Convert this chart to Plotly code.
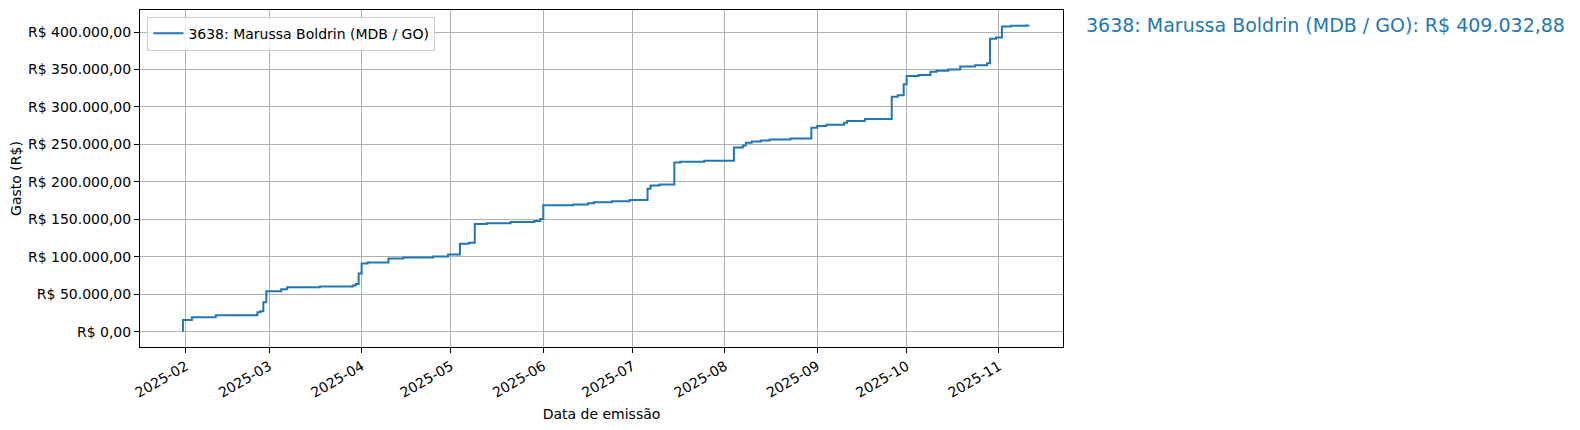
import plotly.graph_objects as go

# datas de emissão e gasto acumulado (R$)
datas = [
    "2025-01-31", "2025-01-31", "2025-02-03", "2025-02-11", "2025-02-25", "2025-02-26",
    "2025-02-27", "2025-02-28", "2025-03-05", "2025-03-07", "2025-03-18", "2025-03-29",
    "2025-03-30", "2025-03-31", "2025-04-01", "2025-04-03", "2025-04-10", "2025-04-15",
    "2025-04-25", "2025-04-30", "2025-05-04", "2025-05-07", "2025-05-09", "2025-05-13",
    "2025-05-21", "2025-05-29", "2025-05-31", "2025-06-01", "2025-06-11", "2025-06-16",
    "2025-06-18", "2025-06-24", "2025-06-30", "2025-07-06", "2025-07-07", "2025-07-10",
    "2025-07-15", "2025-07-17", "2025-07-25", "2025-08-04", "2025-08-07", "2025-08-08",
    "2025-08-10", "2025-08-13", "2025-08-16", "2025-08-23", "2025-08-30", "2025-09-01",
    "2025-09-04", "2025-09-10", "2025-09-11", "2025-09-17", "2025-09-26", "2025-09-28",
    "2025-09-30", "2025-10-01", "2025-10-05", "2025-10-09", "2025-10-11", "2025-10-15",
    "2025-10-19", "2025-10-24", "2025-10-28", "2025-10-29", "2025-10-31", "2025-11-02",
    "2025-11-05", "2025-11-10", "2025-11-11",
]
gasto = [
    0, 15450, 19430, 22080, 26050, 27370,
    39290, 53860, 56510, 59160, 60490, 61810,
    63580, 77700, 90950, 92270, 97570, 98900,
    100300, 103000, 117500, 118900, 143900, 144700,
    146500, 147800, 150400, 168900, 169700, 171500,
    172800, 174100, 175900, 190800, 195200, 196500,
    225900, 226800, 228200, 245900, 248600, 252100,
    253900, 255200, 256500, 257800, 272400, 274600,
    276400, 279000, 281200, 283900, 313500, 315700,
    330200, 341300, 342600, 347000, 348300, 350100,
    354100, 355800, 358500, 391200, 392900, 407500,
    408400, 408900, 409032.88,
]

nome = "3638: Marussa Boldrin (MDB / GO)"
y_ticks = [0, 50000, 100000, 150000, 200000, 250000, 300000, 350000, 400000]
x_ticks = ["2025-02-01", "2025-03-01", "2025-04-01", "2025-05-01", "2025-06-01",
           "2025-07-01", "2025-08-01", "2025-09-01", "2025-10-01", "2025-11-01"]


def brl(v):
    s = f"{v:,.2f}".replace(",", "X").replace(".", ",").replace("X", ".")
    return "R$ " + s


azul = "#1f77b4"

fig = go.Figure()
fig.add_trace(go.Scatter(x=datas, y=gasto, mode="lines", name=nome,
                         line=dict(color=azul, width=2, shape="hv")))

fig.add_annotation(xref="paper", yref="y", x=1.023, y=gasto[-1],
                   text=f"{nome}: {brl(gasto[-1])}", showarrow=False,
                   xanchor="left", yanchor="middle",
                   font=dict(size=19, color=azul))

eixo = dict(showline=True, linecolor="black", linewidth=1, mirror=True,
            ticks="outside", ticklen=5, tickcolor="black", automargin=False,
            showgrid=True, gridcolor="#b0b0b0", gridwidth=1, zeroline=False,
            tickfont=dict(size=14))

fig.update_xaxes(**eixo, type="date", range=["2025-01-16 14:00", "2025-11-22 12:00"],
                 tickvals=x_ticks, ticktext=[d[:7] for d in x_ticks], tickangle=-30,
                 title=dict(text="Data de emissão", standoff=9, font=dict(size=14)))
fig.update_yaxes(**eixo, range=[-20450, 429480],
                 tickvals=y_ticks, ticktext=[brl(v) for v in y_ticks],
                 title=dict(text="Gasto (R$)", standoff=4, font=dict(size=14)))

fig.update_layout(
    width=1580, height=430,
    margin=dict(l=132, r=525, t=2, b=91),
    plot_bgcolor="white", paper_bgcolor="white",
    font=dict(family="DejaVu Sans", size=14, color="black"),
    showlegend=True,
    legend=dict(x=0.008, y=0.98, xanchor="left", yanchor="top",
                bgcolor="rgba(255,255,255,0.8)", bordercolor="#cccccc", borderwidth=1,
                font=dict(size=14)),
)

fig.write_html("out.html")
